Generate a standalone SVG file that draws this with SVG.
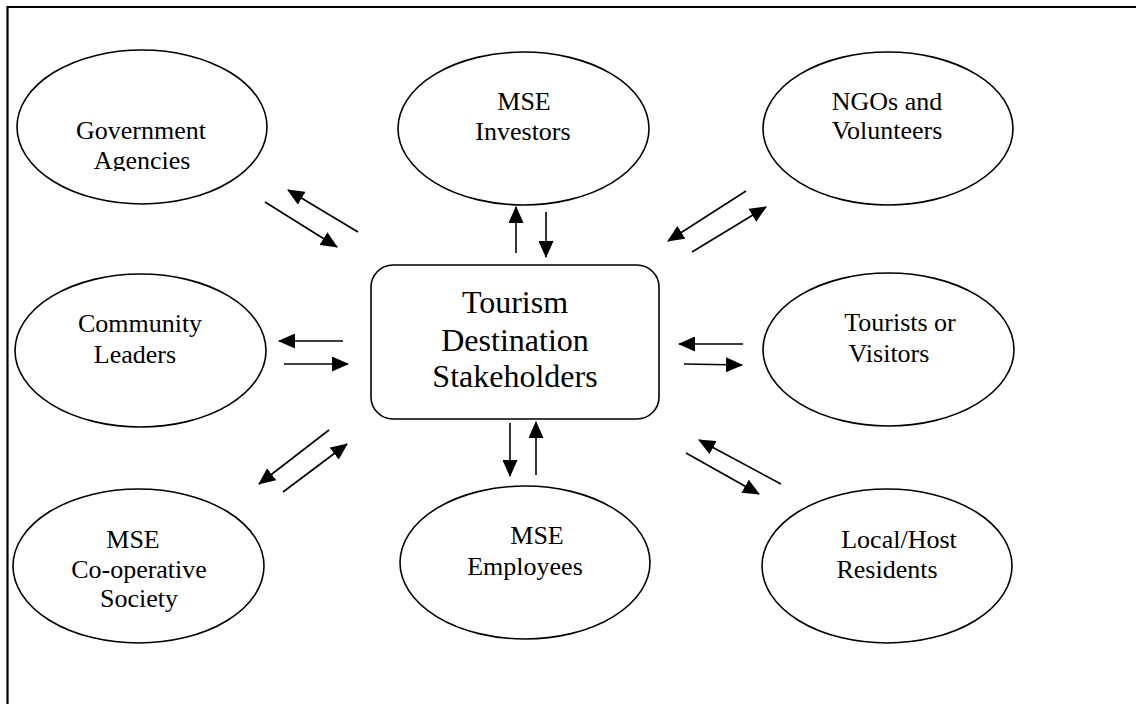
<svg xmlns="http://www.w3.org/2000/svg" width="1136" height="704" viewBox="0 0 1136 704">
<style>
text{font-family:'Liberation Serif','Times New Roman',Times,serif;fill:#000;text-anchor:middle}
.t{font-size:26px}
.tc{font-size:32px}
.node{fill:#fff;stroke:#000;stroke-width:1.6}
.c{stroke:#000;stroke-width:1.6;fill:none;marker-end:url(#ah)}
</style>
<defs>
<marker id="ah" markerUnits="userSpaceOnUse" markerWidth="17" markerHeight="15" refX="16" refY="7.5" orient="auto">
<path d="M0,0 L17,7.5 L0,15 z" fill="#000"/>
</marker>
<clipPath id="clipGov"><rect x="0" y="0" width="400" height="171"/></clipPath>
</defs>
<rect x="0" y="0" width="1136" height="704" fill="#fff"/>
<g id="frame" stroke="#000" stroke-width="2.2" fill="none">
<line x1="7.5" y1="7" x2="1136" y2="7"/>
<line x1="7.5" y1="6" x2="7.5" y2="704"/>
</g>
<g id="center">
<rect class="node" x="371" y="265" width="288" height="154" rx="22" ry="22"/>
<text class="tc" x="515" y="313" font-family="Liberation Serif">Tourism</text>
<text class="tc" x="515" y="351" font-family="Liberation Serif">Destination</text>
<text class="tc" x="515" y="387" font-family="Liberation Serif">Stakeholders</text>
</g>
<g id="gov">
<ellipse class="node" cx="142" cy="127" rx="125" ry="77"/>
<g clip-path="url(#clipGov)">
<text class="t" x="141" y="139">Government</text>
<text class="t" x="142" y="169">Agencies</text>
</g>
</g>
<g id="investors">
<ellipse class="node" cx="523.5" cy="128.5" rx="125.5" ry="76.5"/>
<text class="t" x="524" y="110">MSE</text>
<text class="t" x="523" y="140">Investors</text>
</g>
<g id="ngos">
<ellipse class="node" cx="888" cy="128.5" rx="125" ry="76.5"/>
<text class="t" x="887" y="110">NGOs and</text>
<text class="t" x="887" y="139">Volunteers</text>
</g>
<g id="community">
<ellipse class="node" cx="140.5" cy="350.5" rx="125.5" ry="76.5"/>
<text class="t" x="140" y="332">Community</text>
<text class="t" x="135" y="363">Leaders</text>
</g>
<g id="tourists">
<ellipse class="node" cx="888.5" cy="349.5" rx="125.5" ry="76.5"/>
<text class="t" x="900" y="331">Tourists or</text>
<text class="t" x="889" y="362">Visitors</text>
</g>
<g id="coop">
<ellipse class="node" cx="138.5" cy="566" rx="125.5" ry="77"/>
<text class="t" x="133" y="548">MSE</text>
<text class="t" x="139" y="578">Co-operative</text>
<text class="t" x="139" y="607">Society</text>
</g>
<g id="employees">
<ellipse class="node" cx="525" cy="562.5" rx="125" ry="76.5"/>
<text class="t" x="537" y="544">MSE</text>
<text class="t" x="525" y="575">Employees</text>
</g>
<g id="local">
<ellipse class="node" cx="887" cy="566" rx="125" ry="77"/>
<text class="t" x="899" y="548">Local/Host</text>
<text class="t" x="887" y="578">Residents</text>
</g>
<g id="connectors">
<line class="c" x1="265" y1="202" x2="337" y2="247"/>
<line class="c" x1="358" y1="232" x2="288" y2="190"/>
<line class="c" x1="516" y1="253" x2="516" y2="207"/>
<line class="c" x1="546" y1="212" x2="546" y2="257"/>
<line class="c" x1="746" y1="191" x2="668" y2="241"/>
<line class="c" x1="692" y1="252" x2="766" y2="207"/>
<line class="c" x1="343" y1="341" x2="279" y2="341"/>
<line class="c" x1="284" y1="364" x2="348" y2="364"/>
<line class="c" x1="743" y1="344" x2="679" y2="344"/>
<line class="c" x1="684" y1="364" x2="742" y2="365"/>
<line class="c" x1="329" y1="430" x2="259" y2="484"/>
<line class="c" x1="283" y1="492" x2="347" y2="444"/>
<line class="c" x1="510" y1="423" x2="510" y2="476"/>
<line class="c" x1="536" y1="475" x2="536" y2="422"/>
<line class="c" x1="686" y1="453" x2="759" y2="494"/>
<line class="c" x1="781" y1="484" x2="699" y2="440"/>
</g>
</svg>
